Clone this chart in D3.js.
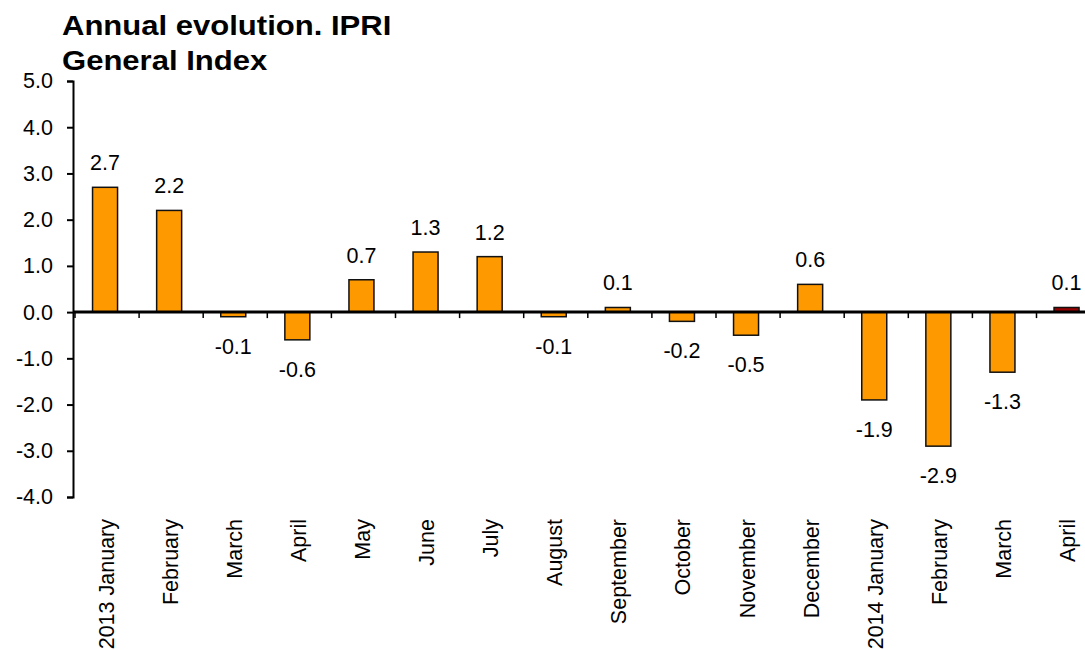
<!DOCTYPE html>
<html>
<head>
<meta charset="utf-8">
<script src="https://cdn.jsdelivr.net/npm/d3@7"></script>
<style>
  body { margin: 0; background: #fff; }
  svg { display: block; font-family: "Liberation Sans", Arial, sans-serif; }
</style>
</head>
<body>
<div id="content"></div>
<script>
var width = 1085,
    height = 650;

// data
var months = ["2013 January", "February", "March", "April", "May", "June", "July",
              "August", "September", "October", "November", "December",
              "2014 January", "February ", "March ", "April "];
var values = [2.7, 2.2, -0.1, -0.6, 0.7, 1.3, 1.2, -0.1, 0.1, -0.2, -0.5, 0.6, -1.9, -2.9, -1.3, 0.1];
var yTicks = [5, 4, 3, 2, 1, 0, -1, -2, -3, -4];
var titleLines = ["Annual evolution. IPRI", "General Index"];

var step = 64.1;
var left = 73;
var fmt = function (d) { return d.toFixed(1); };

var svg = d3.select("#content")
    .append("svg")
    .attr("width", width)
    .attr("height", height);

var y = d3.scaleLinear()
    .domain([-4, 5])
    .range([497, 81]);

var x = d3.scaleBand()
    .domain(months)
    .range([left, left + step * months.length])
    .paddingInner(0.61)
    .paddingOuter(0.305);

// title (the original is drawn a bit wider than the font)
svg.append("g")
    .selectAll("text")
    .data(titleLines)
    .enter()
    .append("text")
    .attr("transform", function (d, i) { return "translate(62," + (35 + i * 35) + ") scale(1.15,1)"; })
    .attr("font-size", "27px")
    .attr("font-weight", "bold")
    .attr("fill", "#000")
    .text(function (d) { return d; });

// y axis
var yAxis = d3.axisLeft(y)
    .tickValues(yTicks)
    .tickFormat(fmt)
    .tickSize(6)
    .tickPadding(14);

var gy = svg.append("g")
    .attr("transform", "translate(73,0)")
    .call(yAxis);
gy.select(".domain").attr("stroke", "#000").attr("stroke-width", 2);
gy.selectAll(".tick line").attr("stroke", "#000").attr("stroke-width", 2);
gy.selectAll(".tick text")
    .attr("font-size", "21.5px")
    .attr("font-family", "Liberation Sans, Arial, sans-serif")
    .attr("fill", "#000");

// bars
svg.append("g")
    .selectAll("rect")
    .data(values)
    .enter()
    .append("rect")
    .attr("x", function (d, i) { return x(months[i]); })
    .attr("width", x.bandwidth())
    .attr("y", function (d) { return y(Math.max(0, d)); })
    .attr("height", function (d) { return Math.abs(y(d) - y(0)); })
    .attr("fill", function (d, i) { return i == values.length - 1 ? "#990000" : "#FF9900"; })
    .attr("stroke", "#111")
    .attr("stroke-width", 1.5);

// zero line with category ticks
var x0 = y(0);
svg.append("line")
    .attr("x1", 73)
    .attr("x2", width)
    .attr("y1", x0)
    .attr("y2", x0)
    .attr("stroke", "#000")
    .attr("stroke-width", 3);

svg.append("g")
    .selectAll("line")
    .data(months)
    .enter()
    .append("line")
    .attr("x1", function (d) { return x(d) - step * 0.305 + 2; })
    .attr("x2", function (d) { return x(d) - step * 0.305 + 2; })
    .attr("y1", x0)
    .attr("y2", x0 + 6)
    .attr("stroke", "#000")
    .attr("stroke-width", 1.5);

// value labels
svg.append("g")
    .selectAll("text")
    .data(values)
    .enter()
    .append("text")
    .attr("x", function (d, i) { return x(months[i]) + x.bandwidth() / 2; })
    .attr("y", function (d) { return d >= 0 ? y(d) - 17 : y(d) + 37; })
    .attr("text-anchor", "middle")
    .attr("font-size", "21.5px")
    .attr("fill", "#000")
    .text(function (d) { return fmt(d); });

// category labels
svg.append("g")
    .selectAll("text")
    .data(months)
    .enter()
    .append("text")
    .attr("transform", function (d) {
        return "translate(" + (x(d) + x.bandwidth() / 2 + 8.5) + ",519) rotate(-90)";
    })
    .attr("text-anchor", "end")
    .attr("font-size", "21.5px")
    .attr("fill", "#000")
    .text(function (d) { return d.trim(); });
</script>
</body>
</html>
